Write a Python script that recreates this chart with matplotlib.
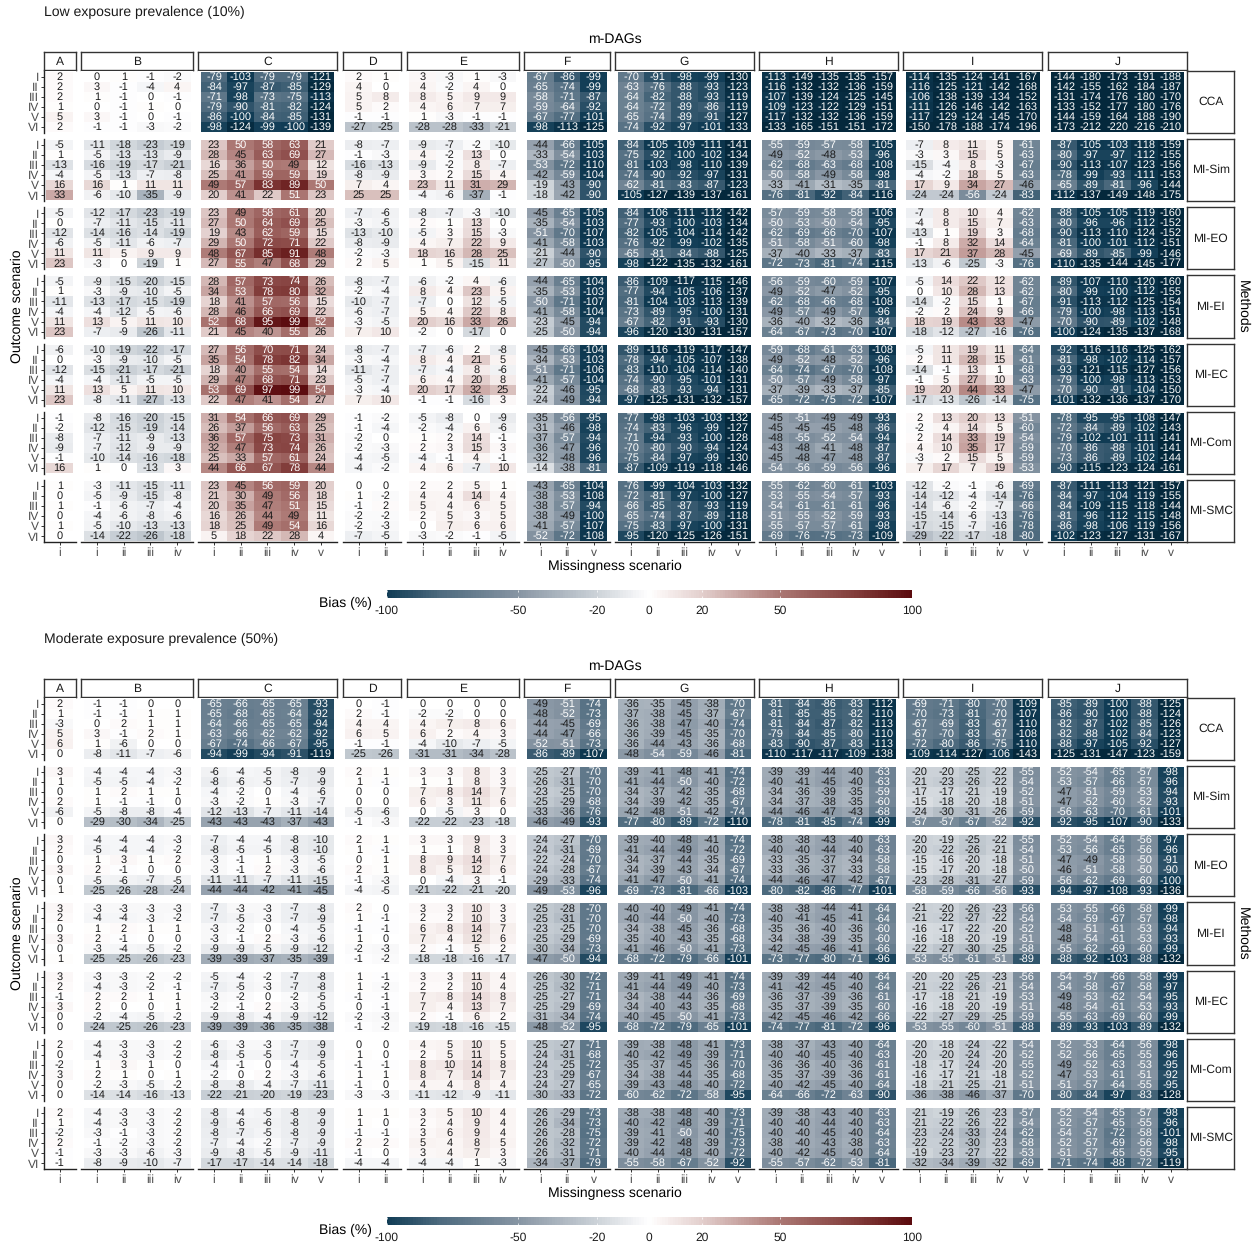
import matplotlib
matplotlib.use("Agg")
import matplotlib.pyplot as plt
import numpy as np
from matplotlib.colors import LinearSegmentedColormap, Normalize

plt.rcParams['font.family'] = ['Liberation Sans', 'DejaVu Sans']
plt.rcParams['text.hinting'] = 'no_hinting'
plt.rcParams['text.hinting_factor'] = 1

facets = ["A", "B", "C", "D", "E", "F", "G", "H", "I", "J"]
methods = ["CCA", "MI-Sim", "MI-EO", "MI-EI", "MI-EC", "MI-Com", "MI-SMC"]
outcomes = ["I", "II", "III", "IV", "V", "VI"]
xticks = {"A": ["i"], "B": ["i", "ii", "iii", "iv"], "C": ["i", "ii", "iii", "iv", "v"],
          "D": ["i", "ii"], "E": ["i", "ii", "iii", "iv"], "F": ["i", "ii", "v"],
          "G": ["i", "ii", "iii", "iv", "v"], "H": ["i", "ii", "iii", "iv", "v"],
          "I": ["i", "ii", "iii", "iv", "v"], "J": ["i", "ii", "iii", "iv", "v"]}
legend_ticks = [-100, -50, -20, 0, 20, 50, 100]

# ---------- Low exposure prevalence (10%) ----------
low_A = [[2],[2],[2],[1],[5],[2],
 [-5],[1],[-13],[-4],[16],[33],
 [-5],[0],[-12],[-6],[11],[23],
 [-5],[1],[-11],[-4],[11],[23],
 [-6],[0],[-12],[-4],[11],[23],
 [-1],[-2],[-8],[-9],[-1],[16],
 [1],[0],[1],[0],[1],[0]]
low_B = [[0,1,-1,-2],[3,-1,-4,4],[1,-1,0,-1],[0,-1,1,0],[3,-1,0,-1],[-1,-1,-3,-2],
 [-11,-18,-23,-19],[-5,-13,-13,-9],[-16,-19,-17,-21],[-5,-13,-7,-8],[16,1,11,11],[-6,-10,-35,-9],
 [-12,-17,-23,-19],[-7,-11,-15,-11],[-14,-16,-14,-19],[-5,-11,-6,-7],[11,5,9,9],[-3,0,-19,1],
 [-9,-15,-20,-15],[-3,-9,-10,-5],[-13,-17,-15,-19],[-4,-12,-5,-6],[13,5,11,10],[-7,-9,-26,-11],
 [-10,-19,-22,-17],[-3,-9,-10,-5],[-15,-21,-17,-21],[-4,-11,-5,-5],[13,5,11,10],[-8,-11,-27,-13],
 [-8,-16,-20,-15],[-12,-15,-19,-14],[-7,-11,-9,-13],[-7,-12,-9,-9],[-10,-14,-16,-18],[1,0,-13,3],
 [-3,-11,-15,-11],[-5,-9,-15,-8],[-1,-6,-7,-4],[-4,-6,-8,-6],[-5,-10,-13,-13],[-14,-22,-26,-18]]
low_C = [[-79,-103,-79,-79,-121],[-84,-97,-87,-85,-129],[-71,-98,-73,-75,-113],[-79,-90,-81,-82,-124],[-86,-100,-84,-85,-131],[-98,-124,-99,-100,-139],
 [23,50,58,63,21],[28,45,63,69,27],[16,36,50,49,12],[25,41,59,59,19],[49,57,83,89,50],[20,41,22,51,23],
 [23,49,58,61,20],[27,50,64,69,25],[19,43,62,59,15],[29,50,72,71,22],[48,67,85,91,48],[27,55,47,68,29],
 [28,57,73,74,26],[34,53,78,80,32],[18,41,57,56,15],[28,46,66,69,22],[52,68,95,99,52],[21,45,40,55,26],
 [27,56,70,71,24],[35,54,78,82,34],[18,40,55,54,14],[29,47,68,71,23],[53,69,97,99,54],[22,47,41,54,27],
 [31,54,66,69,29],[26,37,56,63,25],[36,57,75,73,31],[32,47,73,74,26],[25,33,57,61,24],[44,66,67,78,44],
 [23,45,56,59,20],[21,30,49,56,18],[20,35,47,51,15],[16,26,44,49,11],[18,25,49,54,16],[5,18,22,28,4]]
low_D = [[2,1],[4,0],[5,8],[5,2],[-1,-1],[-27,-25],
 [-8,-7],[-1,-3],[-16,-13],[-8,-9],[7,4],[25,25],
 [-7,-6],[-3,-5],[-13,-10],[-8,-9],[-2,-3],[2,5],
 [-8,-7],[-2,-4],[-10,-7],[-6,-7],[-3,-5],[7,10],
 [-8,-7],[-3,-4],[-11,-7],[-5,-7],[-3,-4],[7,10],
 [-1,-2],[-1,-4],[-2,0],[-2,-3],[-4,-5],[-4,-2],
 [0,0],[1,-2],[-1,2],[-2,-2],[-2,-3],[-7,-5]]
low_E = [[3,-3,1,-3],[4,-2,4,0],[8,5,9,9],[4,6,7,7],[1,-3,-1,-1],[-28,-28,-33,-21],
 [-9,-7,-2,-10],[4,-2,13,0],[-9,-2,8,-7],[3,2,15,4],[23,11,31,29],[-4,-6,-37,-1],
 [-8,-7,-3,-10],[2,1,13,0],[-5,3,15,-3],[4,7,22,9],[18,16,28,25],[1,5,-15,11],
 [-6,-2,4,-6],[8,4,23,5],[-7,0,12,-5],[5,4,22,8],[20,16,33,26],[-2,0,-17,0],
 [-7,-6,2,-8],[8,4,21,5],[-7,-4,8,-6],[6,4,20,8],[20,17,32,25],[-1,-1,-16,3],
 [-5,-8,0,-9],[-2,-4,6,-6],[1,2,14,-1],[2,3,15,3],[-4,-1,4,-1],[4,6,-7,10],
 [2,2,5,1],[4,4,14,4],[5,4,6,5],[2,5,3,5],[0,7,6,6],[-3,-2,-1,-5]]
low_F = [[-67,-86,-99],[-65,-74,-99],[-58,-71,-87],[-59,-64,-92],[-67,-77,-101],[-98,-113,-125],
 [-44,-66,-105],[-33,-54,-103],[-53,-72,-110],[-42,-59,-104],[-19,-43,-90],[-18,-42,-90],
 [-45,-65,-105],[-35,-54,-103],[-51,-70,-107],[-41,-58,-103],[-21,-44,-90],[-27,-50,-95],
 [-44,-65,-104],[-35,-53,-103],[-50,-71,-107],[-41,-58,-104],[-23,-45,-94],[-25,-50,-94],
 [-45,-66,-104],[-34,-53,-103],[-51,-71,-106],[-41,-57,-104],[-22,-46,-95],[-24,-49,-94],
 [-35,-56,-95],[-31,-46,-98],[-37,-57,-94],[-36,-47,-96],[-32,-48,-96],[-14,-38,-81],
 [-43,-65,-104],[-38,-53,-108],[-38,-57,-94],[-38,-49,-100],[-41,-57,-107],[-52,-72,-108]]
low_G = [[-70,-91,-98,-99,-130],[-63,-76,-88,-93,-123],[-64,-82,-88,-93,-119],[-64,-72,-89,-86,-119],[-65,-74,-89,-91,-127],[-74,-92,-97,-101,-133],
 [-84,-105,-109,-111,-141],[-75,-92,-100,-102,-134],[-81,-103,-98,-110,-139],[-74,-90,-92,-97,-131],[-62,-81,-83,-87,-123],[-105,-127,-139,-137,-161],
 [-84,-106,-111,-112,-142],[-77,-93,-100,-103,-134],[-82,-105,-104,-114,-142],[-76,-92,-99,-102,-135],[-65,-81,-84,-88,-125],[-98,-122,-135,-132,-161],
 [-86,-109,-117,-115,-146],[-77,-94,-105,-106,-137],[-81,-104,-103,-113,-139],[-73,-89,-95,-100,-131],[-67,-82,-91,-93,-130],[-96,-120,-130,-131,-157],
 [-89,-116,-119,-117,-147],[-78,-94,-105,-107,-138],[-83,-110,-104,-114,-140],[-74,-90,-95,-101,-131],[-68,-83,-93,-94,-131],[-97,-125,-131,-132,-157],
 [-77,-98,-103,-103,-132],[-74,-83,-96,-99,-127],[-71,-94,-93,-100,-128],[-70,-80,-90,-94,-124],[-75,-84,-97,-99,-130],[-87,-109,-119,-118,-146],
 [-76,-99,-104,-103,-132],[-72,-81,-97,-100,-127],[-66,-85,-87,-93,-119],[-65,-74,-87,-89,-118],[-75,-83,-97,-100,-131],[-95,-120,-125,-126,-151]]
low_H = [[-113,-149,-135,-135,-157],[-116,-132,-132,-136,-159],[-107,-139,-124,-125,-145],[-109,-123,-122,-129,-151],[-117,-132,-132,-136,-159],[-133,-165,-151,-151,-172],
 [-55,-59,-57,-58,-105],[-49,-52,-48,-53,-96],[-62,-68,-63,-68,-108],[-50,-58,-49,-58,-98],[-33,-41,-31,-35,-81],[-76,-81,-92,-84,-116],
 [-57,-59,-58,-58,-106],[-50,-53,-50,-54,-95],[-62,-69,-66,-70,-107],[-51,-58,-51,-60,-98],[-37,-40,-33,-37,-83],[-72,-73,-81,-74,-115],
 [-56,-59,-60,-59,-107],[-49,-52,-47,-52,-95],[-62,-68,-66,-68,-108],[-49,-57,-49,-57,-96],[-36,-40,-32,-36,-84],[-64,-67,-73,-70,-107],
 [-59,-68,-61,-63,-108],[-49,-52,-48,-52,-96],[-64,-74,-67,-70,-108],[-50,-57,-49,-58,-97],[-37,-39,-33,-37,-85],[-65,-72,-75,-72,-107],
 [-45,-51,-49,-49,-93],[-45,-45,-45,-48,-86],[-48,-55,-52,-54,-94],[-43,-48,-41,-48,-87],[-45,-48,-47,-48,-87],[-54,-56,-59,-56,-96],
 [-55,-62,-60,-61,-103],[-53,-55,-54,-57,-93],[-54,-61,-61,-61,-96],[-51,-55,-52,-59,-93],[-55,-57,-57,-61,-98],[-69,-76,-75,-73,-109]]
low_I = [[-114,-135,-124,-141,-167],[-116,-125,-121,-142,-168],[-106,-138,-139,-134,-152],[-111,-126,-146,-142,-163],[-117,-129,-124,-145,-170],[-150,-178,-188,-174,-196],
 [-7,8,11,5,-61],[-3,3,15,5,-63],[-15,-4,8,-3,-67],[-4,-2,18,5,-63],[17,9,34,27,-46],[-24,-24,-56,-24,-83],
 [-7,8,10,4,-62],[-4,8,15,7,-63],[-13,1,19,3,-68],[-1,8,32,14,-64],[17,21,37,28,-45],[-13,-6,-25,-3,-76],
 [-5,14,22,12,-62],[0,10,28,13,-62],[-14,-2,15,1,-67],[-2,2,24,9,-66],[18,19,43,33,-47],[-18,-12,-27,-16,-76],
 [-5,11,19,11,-64],[2,11,28,15,-61],[-14,-1,13,1,-68],[-1,5,27,10,-63],[19,20,44,33,-47],[-17,-13,-26,-14,-75],
 [2,13,20,13,-51],[-2,4,14,5,-60],[2,14,33,19,-54],[4,10,35,17,-59],[-3,2,15,5,-59],[7,17,7,19,-53],
 [-12,-2,-1,-6,-69],[-14,-12,-4,-14,-76],[-14,-6,-2,-7,-66],[-15,-14,-6,-13,-76],[-17,-15,-7,-16,-78],[-29,-22,-17,-18,-80]]
low_J = [[-144,-180,-173,-191,-188],[-142,-155,-162,-184,-187],[-131,-174,-176,-180,-170],[-133,-152,-177,-180,-176],[-144,-159,-164,-188,-190],[-173,-212,-220,-216,-210],
 [-87,-105,-103,-118,-159],[-80,-97,-97,-112,-155],[-90,-113,-107,-123,-156],[-78,-99,-93,-111,-153],[-65,-89,-81,-96,-144],[-112,-137,-149,-148,-175],
 [-88,-105,-105,-119,-160],[-80,-96,-96,-112,-152],[-90,-113,-110,-124,-152],[-81,-100,-101,-112,-151],[-69,-89,-85,-99,-146],[-110,-135,-144,-145,-177],
 [-89,-107,-110,-120,-160],[-80,-99,-100,-112,-155],[-91,-113,-112,-125,-154],[-79,-100,-98,-113,-151],[-70,-90,-89,-102,-148],[-100,-124,-135,-137,-168],
 [-92,-116,-116,-125,-162],[-81,-98,-102,-114,-157],[-93,-121,-115,-127,-156],[-79,-100,-98,-113,-153],[-70,-90,-91,-104,-150],[-101,-132,-136,-137,-170],
 [-78,-95,-95,-108,-147],[-72,-84,-89,-102,-143],[-79,-102,-101,-111,-141],[-70,-86,-88,-101,-141],[-73,-86,-89,-102,-144],[-90,-115,-123,-124,-161],
 [-87,-111,-113,-121,-157],[-84,-97,-104,-119,-155],[-84,-109,-115,-118,-144],[-81,-96,-112,-115,-148],[-86,-98,-106,-119,-156],[-102,-123,-127,-131,-167]]

# ---------- Moderate exposure prevalence (50%) ----------
mod_A = [[2],[1],[-3],[5],[6],[0],
 [3],[1],[0],[2],[-6],[0],
 [3],[2],[0],[3],[0],[1],
 [3],[2],[0],[3],[0],[1],
 [3],[2],[-1],[3],[0],[0],
 [2],[0],[-2],[3],[0],[0],
 [2],[1],[-2],[2],[-1],[-1]]
mod_B = [[-1,-1,0,0],[-1,-1,1,1],[0,2,1,1],[3,-1,2,1],[1,-6,0,0],[-8,-11,-7,-6],
 [-4,-4,-4,-3],[-5,-5,-4,-2],[1,2,1,1],[1,-1,-1,0],[-5,-8,-8,-4],[-29,-30,-34,-25],
 [-4,-4,-4,-3],[-5,-4,-4,-2],[1,3,1,2],[2,-1,0,0],[-5,-6,-7,-5],[-25,-26,-28,-24],
 [-3,-3,-3,-3],[-4,-4,-3,-2],[1,2,1,1],[2,-1,0,0],[-3,-4,-5,-2],[-25,-25,-26,-23],
 [-3,-3,-2,-2],[-4,-3,-2,-1],[2,2,1,1],[2,0,0,1],[-2,-4,-5,-2],[-24,-25,-26,-23],
 [-4,-3,-3,-2],[-4,-3,-3,-2],[1,3,1,0],[2,1,0,1],[-2,-3,-5,-2],[-14,-14,-16,-13],
 [-4,-3,-3,-2],[-4,-3,-3,-2],[-3,-1,-3,-2],[-1,-2,-3,-2],[-3,-3,-6,-3],[-8,-9,-10,-7]]
mod_C = [[-65,-66,-65,-65,-93],[-65,-68,-65,-64,-92],[-64,-66,-65,-65,-94],[-63,-66,-62,-62,-92],[-67,-74,-66,-67,-95],[-94,-99,-94,-91,-119],
 [-6,-4,-5,-8,-9],[-8,-6,-5,-7,-9],[-4,-2,0,-4,-6],[-3,-2,1,-3,-7],[-12,-13,-7,-11,-14],[-43,-43,-43,-37,-43],
 [-7,-4,-4,-8,-10],[-8,-5,-5,-8,-10],[-3,-1,1,-3,-5],[-3,-1,2,-3,-6],[-11,-11,-7,-11,-15],[-44,-44,-42,-41,-45],
 [-7,-3,-3,-7,-8],[-7,-5,-3,-7,-9],[-3,-2,0,-4,-5],[-3,-1,2,-3,-6],[-9,-9,-5,-9,-12],[-39,-39,-37,-35,-39],
 [-5,-4,-2,-7,-8],[-7,-5,-3,-7,-8],[-3,-2,0,-2,-5],[-2,-1,2,-3,-5],[-9,-8,-4,-9,-12],[-39,-39,-36,-35,-38],
 [-6,-3,-3,-7,-9],[-8,-5,-5,-7,-9],[-4,-1,0,-4,-5],[-2,0,2,-3,-6],[-8,-8,-4,-7,-11],[-22,-21,-20,-19,-23],
 [-8,-4,-5,-8,-9],[-9,-6,-6,-8,-9],[-8,-7,-5,-8,-9],[-7,-4,-2,-7,-9],[-9,-8,-5,-9,-11],[-17,-17,-14,-14,-18]]
mod_D = [[0,-1],[2,-1],[4,4],[6,5],[-1,-1],[-25,-26],
 [2,1],[1,-1],[0,0],[0,0],[-5,-6],[-1,-3],
 [2,1],[1,-1],[0,1],[2,1],[-1,-3],[-4,-5],
 [2,0],[1,-1],[-1,-1],[1,0],[-2,-3],[-1,-2],
 [1,-1],[1,-2],[-1,-1],[0,-1],[-2,-3],[-1,-2],
 [0,0],[1,0],[-1,-1],[1,1],[-1,0],[-3,-3],
 [1,1],[1,0],[-1,-1],[2,2],[-1,0],[-4,-4]]
mod_E = [[0,0,0,0],[-2,-2,0,0],[4,7,8,6],[6,2,4,3],[-4,-10,-7,-5],[-31,-31,-34,-28],
 [3,3,8,3],[1,1,8,3],[7,8,14,7],[6,3,11,6],[0,-5,3,0],[-22,-22,-23,-18],
 [3,3,9,3],[1,1,8,3],[8,9,14,7],[8,5,12,6],[0,-4,3,-1],[-21,-22,-21,-20],
 [3,3,10,3],[2,2,10,3],[6,8,14,7],[7,4,12,6],[2,-1,5,2],[-18,-18,-16,-17],
 [3,3,11,4],[2,2,10,4],[7,8,14,8],[7,4,13,7],[2,-1,6,2],[-19,-18,-16,-15],
 [4,5,10,5],[2,5,11,5],[8,10,14,8],[8,7,14,7],[4,4,8,4],[-11,-12,-9,-11],
 [3,5,10,4],[2,4,9,4],[3,6,9,4],[5,4,8,5],[3,4,7,3],[-4,-4,1,-3]]
mod_F = [[-49,-51,-74],[-48,-52,-73],[-44,-45,-69],[-44,-47,-66],[-52,-51,-73],[-86,-89,-107],
 [-25,-27,-70],[-26,-31,-70],[-23,-25,-70],[-25,-29,-68],[-33,-36,-76],[-46,-49,-93],
 [-24,-27,-70],[-24,-31,-69],[-22,-24,-70],[-24,-28,-67],[-29,-33,-74],[-49,-53,-96],
 [-25,-28,-70],[-25,-31,-70],[-23,-25,-70],[-25,-29,-69],[-30,-34,-73],[-47,-50,-94],
 [-26,-30,-72],[-25,-32,-71],[-25,-27,-71],[-25,-29,-69],[-31,-34,-74],[-48,-52,-95],
 [-25,-27,-71],[-24,-31,-68],[-24,-25,-72],[-23,-29,-67],[-24,-27,-65],[-30,-33,-72],
 [-26,-29,-73],[-26,-34,-73],[-26,-28,-75],[-26,-32,-72],[-26,-31,-71],[-34,-37,-79]]
mod_G = [[-36,-35,-45,-38,-70],[-37,-38,-45,-37,-67],[-36,-38,-47,-40,-74],[-36,-39,-45,-35,-70],[-36,-44,-43,-36,-68],[-48,-54,-59,-46,-81],
 [-39,-41,-48,-41,-74],[-41,-44,-50,-40,-72],[-34,-37,-42,-35,-68],[-34,-39,-42,-35,-67],[-42,-48,-51,-42,-74],[-77,-80,-89,-72,-110],
 [-39,-40,-48,-41,-74],[-41,-44,-49,-40,-72],[-34,-37,-44,-35,-69],[-34,-39,-43,-34,-67],[-41,-47,-50,-41,-74],[-69,-73,-81,-66,-103],
 [-40,-40,-49,-41,-74],[-40,-44,-50,-40,-73],[-34,-38,-45,-36,-68],[-35,-40,-43,-35,-68],[-41,-46,-50,-41,-73],[-68,-72,-79,-66,-101],
 [-39,-41,-49,-41,-74],[-41,-44,-49,-40,-73],[-34,-38,-44,-36,-69],[-34,-40,-43,-35,-68],[-40,-45,-50,-41,-73],[-68,-72,-79,-65,-101],
 [-39,-38,-48,-41,-73],[-40,-42,-49,-39,-71],[-35,-37,-45,-36,-70],[-34,-38,-44,-35,-68],[-39,-43,-48,-40,-72],[-60,-62,-72,-58,-95],
 [-38,-38,-48,-40,-73],[-40,-42,-48,-39,-71],[-39,-41,-50,-40,-75],[-39,-42,-48,-39,-73],[-40,-44,-48,-40,-72],[-55,-58,-67,-52,-92]]
mod_H = [[-81,-84,-86,-83,-112],[-81,-85,-85,-82,-110],[-81,-84,-87,-82,-113],[-79,-84,-85,-80,-110],[-83,-90,-87,-83,-113],[-110,-117,-117,-109,-138],
 [-39,-39,-44,-40,-63],[-40,-41,-45,-40,-63],[-34,-36,-39,-35,-59],[-34,-37,-38,-35,-60],[-44,-46,-47,-43,-68],[-78,-81,-85,-74,-99],
 [-38,-38,-43,-40,-63],[-40,-40,-44,-40,-63],[-33,-35,-37,-34,-58],[-33,-36,-37,-33,-58],[-44,-46,-47,-42,-67],[-80,-82,-86,-77,-101],
 [-38,-38,-44,-41,-64],[-40,-41,-45,-41,-64],[-35,-36,-40,-36,-60],[-34,-38,-39,-35,-60],[-42,-45,-46,-41,-66],[-73,-77,-80,-71,-96],
 [-39,-39,-44,-40,-64],[-41,-42,-45,-40,-64],[-36,-37,-39,-36,-61],[-35,-37,-39,-35,-60],[-42,-45,-46,-42,-66],[-74,-77,-81,-72,-96],
 [-38,-37,-43,-40,-64],[-40,-40,-45,-40,-63],[-36,-36,-40,-36,-61],[-35,-37,-39,-36,-61],[-40,-42,-45,-40,-64],[-64,-66,-72,-63,-90],
 [-39,-38,-43,-40,-63],[-40,-40,-44,-40,-63],[-40,-40,-45,-40,-64],[-38,-40,-43,-38,-63],[-40,-42,-45,-40,-64],[-55,-57,-62,-53,-81]]
mod_I = [[-69,-71,-80,-70,-109],[-70,-73,-81,-70,-107],[-67,-69,-83,-67,-110],[-67,-70,-83,-67,-108],[-72,-80,-86,-75,-110],[-109,-114,-127,-106,-143],
 [-20,-20,-25,-22,-55],[-21,-23,-26,-22,-54],[-17,-17,-21,-19,-52],[-15,-18,-20,-18,-51],[-24,-30,-31,-26,-59],[-57,-57,-67,-52,-92],
 [-20,-19,-25,-22,-55],[-20,-22,-26,-21,-54],[-15,-16,-20,-18,-51],[-15,-17,-20,-18,-50],[-23,-28,-31,-27,-59],[-58,-59,-66,-56,-93],
 [-21,-20,-26,-23,-56],[-21,-22,-27,-22,-54],[-16,-17,-22,-20,-52],[-16,-18,-20,-19,-51],[-22,-27,-30,-25,-58],[-53,-55,-61,-51,-89],
 [-20,-20,-25,-23,-56],[-21,-22,-26,-21,-54],[-17,-18,-21,-19,-53],[-16,-18,-20,-19,-51],[-22,-27,-29,-25,-59],[-53,-55,-60,-51,-88],
 [-20,-18,-24,-22,-54],[-20,-20,-24,-20,-52],[-18,-17,-24,-20,-55],[-16,-17,-21,-18,-52],[-18,-21,-25,-21,-51],[-36,-38,-46,-37,-70],
 [-21,-19,-26,-23,-57],[-21,-22,-26,-22,-54],[-23,-24,-33,-24,-62],[-22,-22,-30,-23,-58],[-19,-23,-27,-22,-53],[-32,-34,-39,-32,-69]]
mod_J = [[-85,-89,-100,-88,-125],[-86,-90,-100,-88,-124],[-82,-87,-102,-85,-126],[-82,-88,-102,-84,-123],[-88,-97,-105,-92,-127],[-125,-131,-147,-123,-159],
 [-52,-54,-65,-57,-98],[-53,-57,-66,-57,-96],[-47,-51,-59,-53,-94],[-47,-52,-60,-52,-93],[-56,-63,-70,-61,-101],[-92,-95,-107,-90,-133],
 [-52,-54,-64,-56,-97],[-53,-56,-65,-56,-96],[-47,-49,-58,-50,-91],[-46,-51,-58,-50,-90],[-56,-62,-69,-60,-100],[-94,-97,-108,-93,-136],
 [-53,-55,-66,-58,-99],[-54,-59,-67,-57,-98],[-48,-51,-61,-53,-94],[-48,-54,-61,-53,-93],[-55,-62,-69,-60,-99],[-88,-92,-103,-88,-132],
 [-54,-57,-66,-58,-99],[-54,-58,-67,-58,-97],[-49,-53,-62,-54,-95],[-48,-54,-61,-53,-93],[-55,-63,-69,-60,-99],[-89,-93,-103,-89,-132],
 [-52,-53,-64,-56,-98],[-52,-56,-65,-55,-96],[-49,-52,-63,-53,-95],[-47,-53,-61,-51,-92],[-51,-57,-64,-55,-95],[-80,-84,-97,-83,-128],
 [-52,-54,-65,-57,-98],[-52,-57,-65,-55,-96],[-54,-57,-72,-58,-101],[-52,-57,-69,-56,-98],[-51,-57,-65,-55,-95],[-71,-74,-88,-72,-119]]

low_data = dict(zip(facets, [low_A, low_B, low_C, low_D, low_E, low_F, low_G, low_H, low_I, low_J]))
mod_data = dict(zip(facets, [mod_A, mod_B, mod_C, mod_D, mod_E, mod_F, mod_G, mod_H, mod_I, mod_J]))

# ---------- layout (pixels) ----------
W, H = 1256, 1245
fig = plt.figure(figsize=(W / 100, H / 100), dpi=100, facecolor="white")

def add_axes_px(x0, y0, x1, y1, **kw):
    return fig.add_axes([x0 / W, 1 - y1 / H, (x1 - x0) / W, (y1 - y0) / H], **kw)

def text_px(x, y, s, **kw):
    return fig.text(x / W, 1 - y / H, s, **kw)

facet_left = dict(zip(facets, [43.7, 81, 198, 342.7, 406.7, 524.3, 615, 759.3, 903.3, 1048]))
cell_w = 26.72
row_tops = [70.8, 139.0, 207.2, 275.4, 343.6, 411.8, 480.0]
row_h = 62.2
nodes = [(-130, "#04283c"), (-100, "#103c55"), (-80, "#4d6a7e"), (-50, "#8795a3"),
         (-20, "#ccd2d8"), (-5, "#f3f4f6"), (0, "#ffffff"), (5, "#f9f3f2"),
         (20, "#e3cfcd"), (50, "#ab7773"), (80, "#803a38"), (100, "#5a0a0d")]
cmap = LinearSegmentedColormap.from_list("bias", [((v + 130) / 230, c) for v, c in nodes], N=512)
norm = Normalize(-130, 100)
edge = "#333333"
tick_grey = "#4d4d4d"

def draw_panel(data, title, dy):
    text_px(44, 12.5 + dy, title, fontsize=10.2, va="center", ha="left", color="#1a1a1a")
    text_px(615, 39 + dy, "m-DAGs", fontsize=10.2, va="center", ha="center", color="black")
    text_px(17, 306.5 + dy, "Outcome scenario", fontsize=10.2, rotation=90, va="center", ha="center")
    text_px(1243, 306.5 + dy, "Methods", fontsize=10.2, rotation=-90, va="center", ha="center")
    text_px(615, 566.5 + dy, "Missingness scenario", fontsize=10.2, va="center", ha="center")
    for f in facets:
        n = len(data[f][0])
        left = facet_left[f]
        right = left + (n + 0.2) * cell_w
        sax = add_axes_px(left, 52 + dy, right, 70 + dy)
        sax.set_xticks([]); sax.set_yticks([])
        for s in sax.spines.values():
            s.set_linewidth(1.0); s.set_color(edge)
        sax.text(0.5, 0.47, f, transform=sax.transAxes, ha="center", va="center",
                 fontsize=8.3, color="#1a1a1a")
        for m, top in enumerate(row_tops):
            ax = add_axes_px(left, top + dy, right, top + row_h + dy)
            vals = np.array(data[f][m * 6:(m + 1) * 6], dtype=float)
            ax.pcolormesh(np.arange(n + 1) - 0.5, np.arange(7) - 0.5, vals, cmap=cmap, norm=norm,
                          edgecolors="face", linewidth=0.0, rasterized=True)
            ax.set_xlim(-0.6, n - 0.4)
            ax.set_ylim(5.6, -0.6)
            for r in range(6):
                for c in range(n):
                    v = vals[r, c]
                    ax.text(c, r + 0.02, f"{int(v)}", ha="center", va="center", fontsize=8.2,
                            color="white" if abs(v) >= 50 else "#1a1a1a")
            for s in ax.spines.values():
                s.set_visible(False)
            ax.set_xticks(range(n))
            ax.set_yticks(range(6))
            ax.tick_params(length=0, labelbottom=False, labelleft=False)
            if f == "A":
                ax.spines["left"].set_visible(True)
                ax.spines["left"].set_linewidth(1.0)
                ax.spines["left"].set_color("#222222")
                ax.set_yticklabels(outcomes)
                ax.tick_params(axis="y", length=2.5, width=0.7, color="#333333", labelleft=True,
                               labelsize=8.6, labelcolor=tick_grey, pad=1)
            if m == 6:
                ax.spines["bottom"].set_visible(True)
                ax.spines["bottom"].set_linewidth(1.0)
                ax.spines["bottom"].set_color("#222222")
                ax.set_xticklabels(xticks[f])
                ax.tick_params(axis="x", length=2.5, width=0.7, color="#333333", labelbottom=True,
                               labelsize=8.6, labelcolor=tick_grey, pad=1.5)
    for m, top in enumerate(row_tops):
        sax = add_axes_px(1187.3, top + dy, 1234.3, top + row_h + dy)
        sax.set_xticks([]); sax.set_yticks([])
        for s in sax.spines.values():
            s.set_linewidth(1.0); s.set_color(edge)
        sax.text(0.5, 0.5, methods[m], transform=sax.transAxes, ha="center", va="center",
                 fontsize=8.3, color="#1a1a1a")
    # legend
    text_px(345, 603 + dy, "Bias (%)", fontsize=10.2, va="center", ha="center")
    cax = add_axes_px(386.7, 590 + dy, 911.7, 598 + dy)
    grid = np.arange(-100, 101)
    cax.pcolormesh(grid, [0, 1], np.array([(grid[:-1] + grid[1:]) / 2.0]), cmap=cmap, norm=norm, rasterized=True)
    for s in cax.spines.values():
        s.set_visible(False)
    cax.set_yticks([])
    cax.set_xticks(legend_ticks)
    cax.set_xticklabels([str(t) for t in legend_ticks])
    cax.tick_params(axis="x", direction="in", top=True, bottom=True, length=1.6, width=0.5, color="white",
                    labelsize=8.3, labelcolor="#1a1a1a", pad=5)

draw_panel(low_data, "Low exposure prevalence (10%)", 0)
draw_panel(mod_data, "Moderate exposure prevalence (50%)", 627)

fig.savefig("out.png", dpi=100, facecolor="white")
